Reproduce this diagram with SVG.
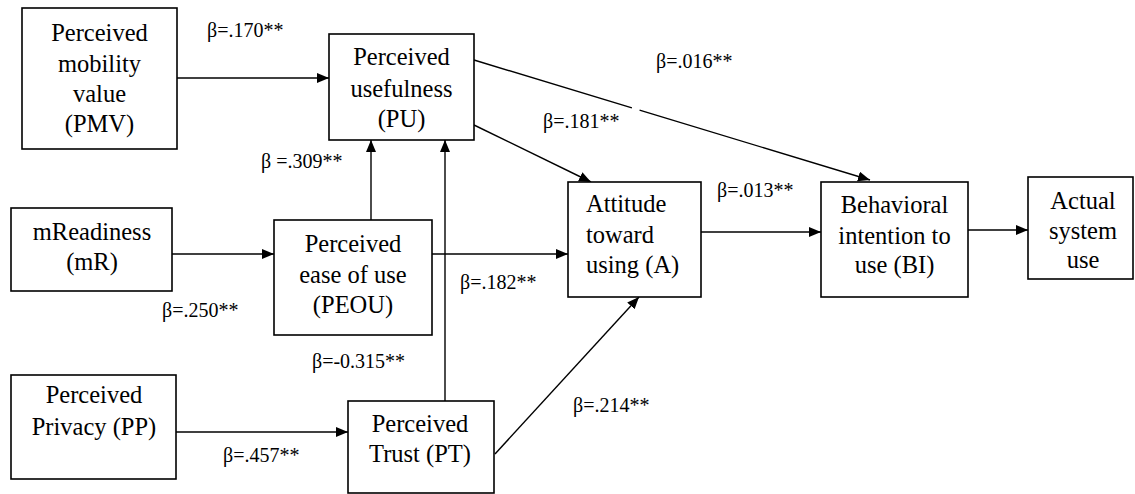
<svg xmlns="http://www.w3.org/2000/svg" width="1135" height="494" viewBox="0 0 1135 494">
<style>
.box{fill:#fff;stroke:#000;stroke-width:1.6}
.t{font-family:"Liberation Serif","Times New Roman",serif;font-size:24.5px;fill:#000;text-anchor:middle}
.tl{text-anchor:start}
.lab{font-family:"Liberation Serif","Times New Roman",serif;font-size:20px;fill:#000}
.c{stroke:#000;stroke-width:1.4;fill:none;marker-end:url(#ah)}
</style>
<defs>
<marker id="ah" markerUnits="userSpaceOnUse" markerWidth="13" markerHeight="11" refX="12" refY="5" orient="auto">
<path d="M0,0 L12,5 L0,10 z" fill="#000"/>
</marker>
</defs>
<rect width="1135" height="494" fill="#fff"/>
<g id="connectors">
<line class="c" x1="177" y1="78" x2="329" y2="78"/>
<line class="c" x1="371" y1="220" x2="371" y2="140"/>
<line class="c" x1="445" y1="401" x2="445" y2="140"/>
<line class="c" x1="171" y1="254" x2="274" y2="254"/>
<line class="c" x1="432" y1="254" x2="568" y2="254"/>
<line class="c" x1="474" y1="125" x2="591" y2="182"/>
<line class="c" x1="474" y1="60" x2="870" y2="180" stroke-dasharray="165 8 1000"/>
<line class="c" x1="701" y1="232" x2="821" y2="232"/>
<line class="c" x1="968" y1="230" x2="1028" y2="230"/>
<line class="c" x1="176" y1="432" x2="348" y2="432"/>
<line class="c" x1="495" y1="454" x2="639" y2="297"/>
</g>
<g id="labels">
<text class="lab" x="207" y="37">β=.170**</text>
<text class="lab" x="261" y="168">β =.309**</text>
<text class="lab" x="656" y="68">β=.016**</text>
<text class="lab" x="543" y="128">β=.181**</text>
<text class="lab" x="717" y="197">β=.013**</text>
<text class="lab" x="162" y="317">β=.250**</text>
<text class="lab" x="460" y="289">β=.182**</text>
<text class="lab" x="312" y="368">β=-0.315**</text>
<text class="lab" x="223" y="462">β=.457**</text>
<text class="lab" x="573" y="412">β=.214**</text>
</g>
<g id="PMV">
<rect class="box" x="22" y="8" width="155" height="141"/>
<text class="t" x="99.5" y="41">Perceived</text>
<text class="t" x="99.5" y="72">mobility</text>
<text class="t" x="99.5" y="102">value</text>
<text class="t" x="99.5" y="132">(PMV)</text>
</g>
<g id="PU">
<rect class="box" x="329" y="34" width="145" height="106"/>
<text class="t" x="401.5" y="65">Perceived</text>
<text class="t" x="401.5" y="97">usefulness</text>
<text class="t" x="401.5" y="127">(PU)</text>
</g>
<g id="mR">
<rect class="box" x="11" y="208" width="161" height="83"/>
<text class="t" x="92" y="240">mReadiness</text>
<text class="t" x="92" y="270">(mR)</text>
</g>
<g id="PEOU">
<rect class="box" x="274" y="220" width="158" height="115"/>
<text class="t" x="353" y="252">Perceived</text>
<text class="t" x="353" y="283">ease of use</text>
<text class="t" x="353" y="313">(PEOU)</text>
</g>
<g id="PP">
<rect class="box" x="11" y="375" width="165" height="104"/>
<text class="t" x="94" y="403">Perceived</text>
<text class="t" x="94" y="435">Privacy (PP)</text>
</g>
<g id="PT">
<rect class="box" x="348" y="401" width="146" height="92"/>
<text class="t" x="420" y="432">Perceived</text>
<text class="t" x="420" y="462">Trust (PT)</text>
</g>
<g id="A">
<rect class="box" x="568" y="182" width="133" height="115"/>
<text class="t tl" x="586" y="212">Attitude</text>
<text class="t tl" x="586" y="243">toward</text>
<text class="t tl" x="586" y="273">using (A)</text>
</g>
<g id="BI">
<rect class="box" x="821" y="182" width="147" height="115"/>
<text class="t" x="894.5" y="213">Behavioral</text>
<text class="t" x="894.5" y="244">intention to</text>
<text class="t" x="894.5" y="273">use (BI)</text>
</g>
<g id="ASU">
<rect class="box" x="1028" y="177" width="105" height="102"/>
<text class="t" x="1083" y="209">Actual</text>
<text class="t" x="1083" y="239">system</text>
<text class="t" x="1083" y="268">use</text>
</g>
</svg>
